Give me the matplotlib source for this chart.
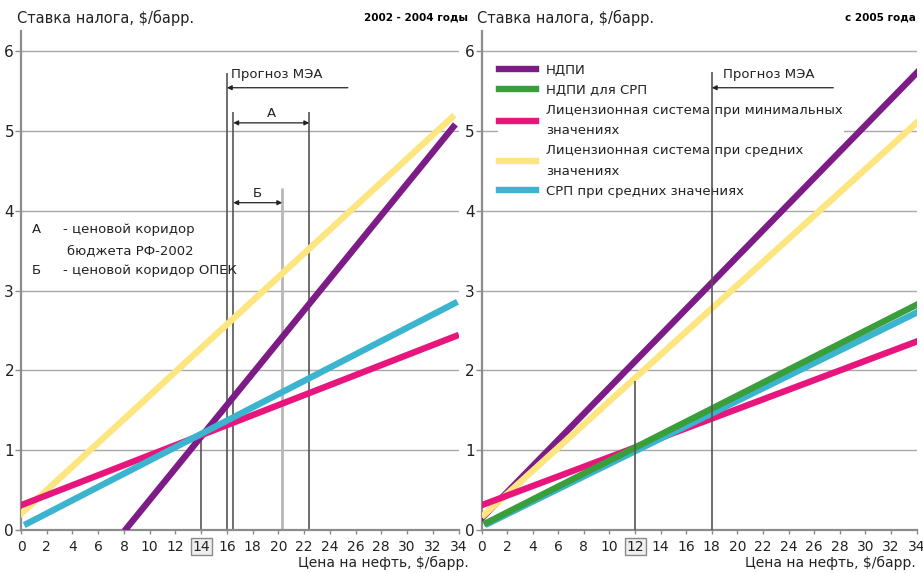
import matplotlib
matplotlib.use("Agg")
import matplotlib.pyplot as plt

# ---------------- data ----------------
xticks = list(range(0, 35, 2))
yticks = list(range(0, 7))

# left panel (2002-2004)
left_ndpi_x = [8.2, 33.6]
left_ndpi_y = [0.02, 5.05]
left_lic_avg_x = [0.05, 33.5]
left_lic_avg_y = [0.21, 5.17]
left_lic_min_x = [0.0, 33.8]
left_lic_min_y = [0.31, 2.43]
left_srp_avg_x = [0.47, 33.7]
left_srp_avg_y = [0.08, 2.84]
left_vlines_x = [14, 16, 16.5, 20.3, 22.4]
left_vlines_top = [1.2, 5.73, 5.24, 4.29, 5.24]

# right panel (from 2005)
right_ndpi_x = [0.1, 34.1]
right_ndpi_y = [0.16, 5.74]
right_ndpi_srp_x = [0.4, 34.0]
right_ndpi_srp_y = [0.09, 2.82]
right_lic_min_x = [0.0, 34.0]
right_lic_min_y = [0.31, 2.36]
right_lic_avg_x = [0.2, 34.0]
right_lic_avg_y = [0.19, 5.10]
right_srp_avg_x = [0.5, 34.1]
right_srp_avg_y = [0.08, 2.73]
right_vlines_x = [12, 18]
right_vlines_top = [1.87, 5.74]

labels = ["НДПИ", "НДПИ для СРП",
          "Лицензионная система при минимальных\nзначениях",
          "Лицензионная система при средних\nзначениях",
          "СРП при средних значениях"]
C_PURPLE = "#7d1b87"
C_GREEN = "#3a9e3a"
C_PINK = "#e8167c"
C_YELLOW = "#fde57f"
C_CYAN = "#3bb4cf"

LW = 4.6
GRID = "#a8a8a8"
SPINE = "#8c8c8c"
VL = "#555555"
FS = 9.5
TXT = "#222222"

plt.rcParams['font.family'] = ['DejaVu Sans']

fig = plt.figure(figsize=(9.23, 5.73), dpi=100)
W, H = 923, 573
y0px, ppu = 530, 79.83
ytop = 6.25
bottom = (H - y0px) / H
height = ytop * ppu / H
axL = fig.add_axes([21 / W, bottom, 437.5 / W, height])
axR = fig.add_axes([481.5 / W, bottom, 435 / W, height])


def style(ax, boxed_idx):
    ax.set_xlim(0, 34)
    ax.set_ylim(0, ytop)
    for s in ("top", "right"):
        ax.spines[s].set_visible(False)
    for s in ("left", "bottom"):
        ax.spines[s].set_color(SPINE)
        ax.spines[s].set_linewidth(1.6)
    ax.set_xticks(xticks)
    ax.set_xticklabels([str(v) for v in xticks], fontsize=FS + 0.5, color=TXT)
    ax.set_yticks(yticks)
    ax.set_yticklabels([str(v) for v in yticks], fontsize=FS + 1.5, color=TXT)
    ax.tick_params(axis="x", length=3, width=1, color=SPINE, pad=4)
    ax.tick_params(axis="y", length=4, width=1, color=SPINE, pad=1)
    ax.grid(axis="y", color=GRID, lw=1.0, zorder=0)
    ax.set_axisbelow(True)
    lab = ax.get_xticklabels()[boxed_idx]
    lab.set_bbox(dict(boxstyle="square,pad=0.12", fc="#eeeeee", ec="#8a8a8a", lw=1))


style(axL, 7)
style(axR, 6)

# ---------- left panel ----------
axL.vlines(left_vlines_x, 0, left_vlines_top,
           colors=[VL, VL, VL, "#b8b8b8", VL], lw=[1.2, 1.2, 1.2, 2.0, 1.2], zorder=1)
axL.plot(left_ndpi_x, left_ndpi_y, color=C_PURPLE, lw=LW, zorder=3)
axL.plot(left_lic_avg_x, left_lic_avg_y, color=C_YELLOW, lw=LW, zorder=3)
axL.plot(left_lic_min_x, left_lic_min_y, color=C_PINK, lw=LW, zorder=4)
axL.plot(left_srp_avg_x, left_srp_avg_y, color=C_CYAN, lw=LW, zorder=5)

arr = dict(arrowstyle="-|>", color=TXT, lw=0.9, mutation_scale=7, shrinkA=0, shrinkB=0)
darr = dict(arrowstyle="<|-|>", color=TXT, lw=0.9, mutation_scale=7, shrinkA=0, shrinkB=0)
axL.annotate("", xy=(16, 5.54), xytext=(25.4, 5.54), arrowprops=arr)
axL.text(16.35, 5.70, "Прогноз МЭА", fontsize=FS, va="center", ha="left", color=TXT)
axL.annotate("", xy=(16.5, 5.10), xytext=(22.4, 5.10), arrowprops=darr)
axL.text(19.45, 5.14, "А", fontsize=FS, va="bottom", ha="center", color=TXT)
axL.annotate("", xy=(16.5, 4.10), xytext=(20.3, 4.10), arrowprops=darr)
axL.text(18.4, 4.14, "Б", fontsize=FS, va="bottom", ha="center", color=TXT)

axL.text(0.85, 3.76, "А", fontsize=FS, va="center", ha="left", color=TXT)
axL.text(3.3, 3.76, "- ценовой коридор", fontsize=FS, va="center", ha="left", color=TXT)
axL.text(3.6, 3.50, "бюджета РФ-2002", fontsize=FS, va="center", ha="left", color=TXT)
axL.text(0.85, 3.25, "Б", fontsize=FS, va="center", ha="left", color=TXT)
axL.text(3.3, 3.25, "- ценовой коридор ОПЕК", fontsize=FS, va="center", ha="left", color=TXT)

# ---------- right panel ----------
axR.vlines(right_vlines_x, 0, right_vlines_top, colors=VL, lw=1.2, zorder=6)
lR_ndpi, = axR.plot(right_ndpi_x, right_ndpi_y, color=C_PURPLE, lw=LW, zorder=3)
lR_lavg, = axR.plot(right_lic_avg_x, right_lic_avg_y, color=C_YELLOW, lw=LW, zorder=3)
lR_lmin, = axR.plot(right_lic_min_x, right_lic_min_y, color=C_PINK, lw=LW, zorder=4)
lR_savg, = axR.plot(right_srp_avg_x, right_srp_avg_y, color=C_CYAN, lw=LW, zorder=4)
lR_nsrp, = axR.plot(right_ndpi_srp_x, right_ndpi_srp_y, color=C_GREEN, lw=LW, zorder=5)

axR.annotate("", xy=(18, 5.54), xytext=(27.5, 5.54), arrowprops=arr, zorder=7)
axR.text(18.9, 5.70, "Прогноз МЭА", fontsize=FS, va="center", ha="left", color=TXT, zorder=7)

leg = axR.legend([lR_ndpi, lR_nsrp, lR_lmin, lR_lavg, lR_savg], labels,
                 loc="upper left", bbox_to_anchor=(0.037, 0.937), fontsize=FS,
                 frameon=True, fancybox=False, facecolor="white", edgecolor="none",
                 framealpha=1, handlelength=2.8, handletextpad=0.75,
                 labelspacing=0.53, borderpad=0.1, borderaxespad=0)
for t in leg.get_texts():
    t.set_linespacing(1.75)
    t.set_color(TXT)
leg.set_zorder(2.5)

# ---------- figure texts ----------
fig.text(17 / W, 1 - 18 / H, "Ставка налога, $/барр.", fontsize=10.5, va="center", ha="left", color=TXT)
fig.text(477 / W, 1 - 18 / H, "Ставка налога, $/барр.", fontsize=10.5, va="center", ha="left", color=TXT)
fig.text(468 / W, 1 - 18 / H, "2002 - 2004 годы", fontsize=7.5, fontweight="bold", va="center", ha="right")
fig.text(916 / W, 1 - 18 / H, "с 2005 года", fontsize=7.5, fontweight="bold", va="center", ha="right")
fig.text(469 / W, 1 - 563 / H, "Цена на нефть, $/барр.", fontsize=10, va="center", ha="right", color=TXT)
fig.text(916 / W, 1 - 563 / H, "Цена на нефть, $/барр.", fontsize=10, va="center", ha="right", color=TXT)

fig.savefig("out.png", dpi=100)
